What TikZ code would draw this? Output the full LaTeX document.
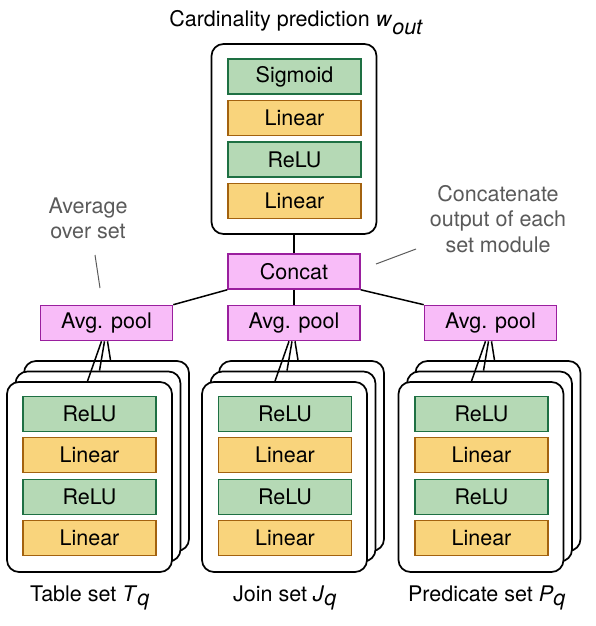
\documentclass[tikz,border=0pt]{standalone}
\usepackage{fontspec}
\setmainfont{TeX Gyre Heros}

\definecolor{relufill}{HTML}{B5D9B5}
\definecolor{reludraw}{HTML}{1E7043}
\definecolor{linfill}{HTML}{F9D47C}
\definecolor{lindraw}{HTML}{A3620F}
\definecolor{poolfill}{HTML}{F8BCF8}
\definecolor{pooldraw}{HTML}{9A1F9E}
\definecolor{notegray}{HTML}{5A5A5A}
\def\bigfont{\fontsize{21.5}{25.5}\selectfont}
\tikzstyle{layer}=[draw, line width=1.6pt, minimum width=133pt,
                   minimum height=35pt, inner sep=0pt, font=\bigfont]
\tikzstyle{relu}=[layer, draw=reludraw, fill=relufill]
\tikzstyle{linear}=[layer, draw=lindraw, fill=linfill]
\tikzstyle{pool}=[layer, draw=pooldraw, fill=poolfill, minimum width=132pt]
\tikzstyle{module}=[draw, fill=white, rounded corners=12pt, line width=1.7pt,
                    minimum width=165pt, minimum height=190pt]
\tikzstyle{note}=[text=notegray, align=center, font=\bigfont]
\tikzstyle{pointer}=[draw=notegray, line width=1pt]

\begin{document}
\begin{tikzpicture}[x=1pt, y=-1pt, line width=1.5pt]
  \useasboundingbox (0,0) rectangle (595,626);

  % output module
  \node[font=\bigfont, anchor=base] (title) at (296,27)
       {Cardinality prediction \textit{w}$_{\textit{out}}$};
  \node[module] (out) at (294,139) {};
  \node[relu] (sig) at (294.5,76.5) {Sigmoid};
  \node[linear] (olin2) at (294.5,118) {Linear};
  \node[relu] (orelu) at (294.5,159.5) {ReLU};
  \node[linear] (olin1) at (294.5,201) {Linear};
  \node[pool] (concat) at (294,271.5) {Concat};

  % pooling
  \node[pool] (tpool) at (106.5,323) {Avg. pool};
  \node[pool] (jpool) at (294,323) {Avg. pool};
  \node[pool] (ppool) at (490.5,323) {Avg. pool};

  % table set
  \node[module] (tb3) at (106.5,456) {};
  \node[module] (tb2) at (98,466.5) {};
  \node[module] (tb1) at (89.5,477) {};
  \node[relu] (trelu2) at (89.5,414) {ReLU};
  \node[linear] (tlin2) at (89.5,455) {Linear};
  \node[relu] (trelu1) at (89.5,497) {ReLU};
  \node[linear] (tlin1) at (89.5,538) {Linear};
  \node[font=\bigfont, anchor=base] (tlabel) at (90,601)
       {Table set \textit{T}$_{\textit{q}}$};

  % join set
  \node[module] (jb3) at (301.5,456) {};
  \node[module] (jb2) at (293,466.5) {};
  \node[module] (jb1) at (284.5,477) {};
  \node[relu] (jrelu2) at (285,414) {ReLU};
  \node[linear] (jlin2) at (285,455) {Linear};
  \node[relu] (jrelu1) at (285,497) {ReLU};
  \node[linear] (jlin1) at (285,538) {Linear};
  \node[font=\bigfont, anchor=base] (jlabel) at (285,601)
       {Join set \textit{J}$_{\textit{q}}$};

  % predicate set
  \node[module] (pb3) at (498,456) {};
  \node[module] (pb2) at (489.5,466.5) {};
  \node[module] (pb1) at (481,477) {};
  \node[relu] (prelu2) at (481.5,414) {ReLU};
  \node[linear] (plin2) at (481.5,455) {Linear};
  \node[relu] (prelu1) at (481.5,497) {ReLU};
  \node[linear] (plin1) at (481.5,538) {Linear};
  \node[font=\bigfont, anchor=base] (plabel) at (487,601)
       {Predicate set \textit{P}$_{\textit{q}}$};

  \path (out) edge (concat);
  \path (concat.south west) edge (tpool.north east);
  \path (concat.south) edge (jpool.north);
  \path (concat.south east) edge (ppool.north west);

  \draw ([xshift=-5pt]tpool.south) -- ([xshift=-19pt]tpool.south |- tb1.north);
  \draw ([xshift=-2pt]tpool.south) -- ([xshift=-7pt]tpool.south |- tb2.north);
  \draw ([xshift=1pt]tpool.south) -- ([xshift=4pt]tpool.south |- tb3.north);
  \draw ([xshift=-5pt]jpool.south) -- ([xshift=-19pt]jpool.south |- jb1.north);
  \draw ([xshift=-2pt]jpool.south) -- ([xshift=-7pt]jpool.south |- jb2.north);
  \draw ([xshift=1pt]jpool.south) -- ([xshift=4pt]jpool.south |- jb3.north);
  \draw ([xshift=-5pt]ppool.south) -- ([xshift=-19pt]ppool.south |- pb1.north);
  \draw ([xshift=-2pt]ppool.south) -- ([xshift=-7pt]ppool.south |- pb2.north);
  \draw ([xshift=1pt]ppool.south) -- ([xshift=4pt]ppool.south |- pb3.north);

  % notes
  \node[note] (avgnote) at (88,218.5) {Average\\over set};
  \coordinate (avgfrom) at (95,255);
  \coordinate (avgto) at (100,288);
  \draw[pointer] (avgfrom) -- (avgto);
  \node[note] (catnote) at (498,219) {Concatenate\\output of each\\set module};
  \coordinate (catfrom) at (416,249);
  \coordinate (catto) at (376,264);
  \draw[pointer] (catfrom) -- (catto);

\end{tikzpicture}
\end{document}
